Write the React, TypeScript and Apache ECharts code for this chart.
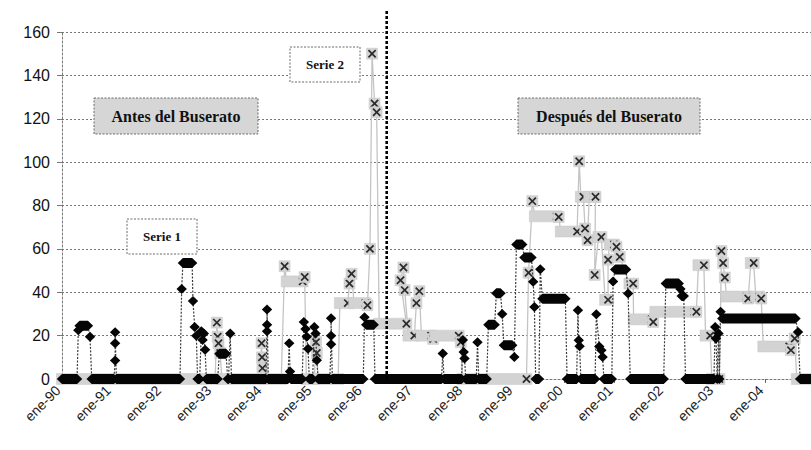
import React, { useEffect, useRef } from "react";
import * as echarts from "echarts";

// x values are months counted from ene-90 (0 = enero 1990)
const yearLabels = [
  "ene-90", "ene-91", "ene-92", "ene-93", "ene-94", "ene-95", "ene-96", "ene-97",
  "ene-98", "ene-99", "ene-00", "ene-01", "ene-02", "ene-03", "ene-04",
];
const lastMonth = 179;
const buseratoMonth = 77.6;

// Serie 1: runs of equal values [startMonth, endMonth, value]
const serie1Runs = [
  [0, 3.6, 0], [3.9, 3.9, 22.5], [4.2, 6.2, 24.5], [6.7, 6.7, 19.5], [7.1, 12.4, 0],
  [12.7, 12.7, 8.5], [12.7, 12.7, 16.5], [12.7, 12.7, 21.5], [13.0, 28.2, 0],
  [28.6, 28.6, 41.5], [28.9, 31.1, 53.5], [31.3, 31.3, 36], [31.7, 31.7, 24], [32.1, 32.1, 20],
  [32.4, 32.9, 0], [33.3, 33.3, 22], [33.6, 33.6, 18], [33.9, 33.9, 21], [34.2, 34.2, 13.5],
  [34.5, 37.2, 0], [37.6, 39.2, 11.7], [39.6, 39.8, 0], [40.2, 40.2, 21], [40.5, 48.7, 0],
  [49.0, 49.0, 22], [49.0, 49.0, 25], [49.0, 49.0, 32], [49.3, 54.0, 0],
  [54.3, 54.3, 16.5], [54.5, 54.5, 3.5], [54.7, 57.4, 0],
  [57.8, 57.8, 26.3], [58.2, 58.2, 23], [58.5, 58.5, 19.5], [58.8, 58.8, 14], [59.1, 59.9, 0],
  [60.3, 60.3, 24], [60.6, 60.6, 21], [60.9, 60.9, 8.7], [61.2, 64.0, 0],
  [64.3, 64.3, 16], [64.3, 64.3, 20], [64.3, 64.3, 28], [64.6, 72.0, 0],
  [72.3, 72.3, 28.5], [72.7, 74.5, 25], [74.8, 90.7, 0], [91.0, 91.0, 11.8], [91.3, 95.5, 0],
  [95.8, 95.8, 18], [96.0, 96.0, 12.5], [96.2, 96.2, 9.4], [96.5, 99.0, 0], [99.3, 99.3, 17],
  [99.6, 101.5, 0], [101.9, 103.4, 25], [103.8, 104.8, 39.5], [105.2, 105.2, 30],
  [105.6, 107.6, 15.6], [108.1, 108.1, 10.2], [108.6, 110.0, 62], [110.5, 112.2, 56],
  [112.6, 112.6, 44.8], [112.9, 112.9, 33.2], [113.2, 114.0, 0], [114.3, 114.3, 50.6],
  [114.8, 120.3, 37], [120.7, 123.0, 0], [123.3, 123.3, 31.7], [123.5, 123.5, 17.9],
  [123.7, 123.7, 15.1], [124.0, 127.4, 0], [127.7, 127.7, 29.9], [128.4, 128.4, 15],
  [128.9, 128.9, 13.3], [129.2, 129.2, 10.2], [129.5, 131.4, 0], [131.7, 131.7, 45],
  [132.2, 134.8, 50.5], [135.3, 135.3, 39.4], [135.8, 143.8, 0], [144.3, 147.4, 44],
  [147.8, 147.8, 41.5], [148.1, 148.6, 38.3], [149.0, 155.8, 0], [156.1, 156.1, 24],
  [156.3, 156.3, 18.7], [156.6, 156.6, 0], [156.9, 156.9, 21], [157.1, 157.1, 0],
  [157.4, 157.4, 31], [157.8, 175.3, 27.9], [175.9, 175.9, 21.7], [176.4, 179, 0],
];

// Serie 2: runs of equal values [startMonth, endMonth, value]
const serie2Runs = [
  [0, 36.6, 0], [37.0, 37.0, 26], [37.2, 37.2, 19.5], [37.4, 37.4, 16.5], [37.8, 37.8, 12],
  [38.2, 47.3, 0], [47.7, 47.7, 16.5], [47.8, 47.8, 10], [47.9, 47.9, 5], [48.2, 52.4, 0],
  [53.2, 53.2, 52], [53.7, 57.5, 45], [58.0, 58.0, 47], [58.4, 60.3, 0],
  [60.7, 60.7, 17], [60.9, 60.9, 12], [61.2, 66.0, 0], [66.4, 68.3, 35], [68.7, 68.7, 44],
  [69.2, 69.2, 48.5], [69.8, 72.5, 35], [73.0, 73.0, 34], [73.6, 73.6, 60], [74.1, 74.1, 150],
  [74.7, 74.7, 127], [75.2, 75.2, 123], [75.8, 82.3, 25.5], [80.9, 80.9, 45.5],
  [81.6, 81.6, 51.4], [81.9, 81.9, 41], [82.8, 84.2, 20], [84.7, 84.7, 35], [85.4, 85.4, 40.5],
  [85.9, 88.2, 20], [88.7, 88.7, 18.5], [89.2, 94.8, 20], [95.3, 95.3, 17], [95.7, 111.0, 0],
  [111.5, 111.5, 49], [112.4, 112.4, 82], [113.0, 118.2, 75], [118.7, 118.7, 74.7],
  [119.2, 123.1, 68], [123.6, 123.6, 100.4], [124.0, 124.6, 84], [125.0, 125.0, 69.4],
  [125.6, 125.6, 64], [126.0, 127.1, 84], [127.5, 127.5, 84], [127.3, 127.3, 48],
  [128.2, 128.9, 65.5], [129.8, 130.5, 36.5], [130.5, 130.5, 55], [130.9, 131.9, 62],
  [132.5, 132.5, 61], [133.3, 133.3, 56.3], [135.6, 136.5, 44], [136.6, 140.9, 27.5],
  [141.3, 141.3, 26.3], [141.8, 151.1, 31], [151.6, 151.6, 31], [152.1, 153.4, 52.5],
  [153.8, 154.9, 20], [155.3, 157.1, 0], [157.6, 157.6, 59], [158.0, 158.0, 53.5],
  [158.4, 158.4, 46.8], [158.8, 163.6, 38], [164.0, 164.0, 37.1], [164.6, 165.3, 53.5],
  [165.8, 166.6, 38], [167.1, 167.1, 37.1], [167.6, 173.8, 15], [174.2, 174.2, 13.3],
  [175.1, 175.1, 18.7], [175.6, 179, 0],
];

function runsToLine(runs: number[][]) {
  const pts: number[][] = [];
  runs.forEach((r) => {
    pts.push([r[0], r[2]]);
    if (r[1] !== r[0]) pts.push([r[1], r[2]]);
  });
  return pts;
}

export default function App() {
  const ref = useRef<HTMLDivElement>(null);
  useEffect(() => {
    const chart = echarts.init(ref.current!, null, { renderer: "svg" });
    const option: any = {
      animation: false,
      backgroundColor: "#ffffff",
      grid: { left: 62, right: 0, top: 32, bottom: 71, containLabel: false },
      xAxis: {
        type: "value",
        min: 0,
        max: lastMonth,
        interval: 12,
        axisLine: { show: true, lineStyle: { color: "#777", type: [2, 2] } },
        axisTick: { show: true, length: 4, lineStyle: { color: "#666" } },
        splitLine: { show: false },
        axisLabel: { show: false },
      },
      yAxis: {
        type: "value",
        min: 0,
        max: 160,
        interval: 20,
        axisLine: { show: true, lineStyle: { color: "#777", type: [2, 2] } },
        axisTick: { show: true, length: 5, lineStyle: { color: "#777" } },
        splitLine: { show: true, lineStyle: { color: "#777", type: [2, 2], width: 1 } },
        axisLabel: {
          margin: 12,
          fontFamily: "Liberation Sans",
          fontSize: 16,
          color: "#111",
        },
      },
      series: [
        {
          name: "Serie 2 línea",
          type: "line",
          data: runsToLine(serie2Runs),
          symbol: "none",
          lineStyle: { color: "#c4c4c4", width: 1.3 },
          z: 2,
          silent: true,
        },
        {
          name: "Serie 2",
          type: "custom",
          data: serie2Runs,
          encode: { x: [0, 1], y: 2 },
          z: 3,
          silent: true,
          renderItem: (params: any, api: any) => {
            const p0 = api.coord([api.value(0), api.value(2)]);
            const p1 = api.coord([api.value(1), api.value(2)]);
            const s = 5.5;
            const c = 3.6;
            return {
              type: "group",
              children: [
                {
                  type: "rect",
                  shape: { x: p0[0] - s, y: p0[1] - s, width: p1[0] - p0[0] + 2 * s, height: 2 * s },
                  style: { fill: "#d3d3d3", stroke: "#c6c6c6", lineWidth: 0.5 },
                },
                {
                  type: "line",
                  shape: { x1: p1[0] - c, y1: p1[1] - c, x2: p1[0] + c, y2: p1[1] + c },
                  style: { stroke: "#2a2a2a", lineWidth: 1.7 },
                },
                {
                  type: "line",
                  shape: { x1: p1[0] - c, y1: p1[1] + c, x2: p1[0] + c, y2: p1[1] - c },
                  style: { stroke: "#2a2a2a", lineWidth: 1.7 },
                },
              ],
            };
          },
        },
        {
          name: "Serie 1 línea",
          type: "line",
          data: runsToLine(serie1Runs),
          symbol: "none",
          lineStyle: { color: "#3a3a3a", width: 1.2, type: [2, 1.5] },
          z: 4,
          silent: true,
        },
        {
          name: "Serie 1",
          type: "custom",
          data: serie1Runs,
          encode: { x: [0, 1], y: 2 },
          z: 5,
          silent: true,
          renderItem: (params: any, api: any) => {
            const p0 = api.coord([api.value(0), api.value(2)]);
            const p1 = api.coord([api.value(1), api.value(2)]);
            const w = 5.2;
            const h = 5;
            return {
              type: "polygon",
              shape: {
                points: [
                  [p0[0] - w, p0[1]],
                  [p0[0], p0[1] - h],
                  [p1[0], p1[1] - h],
                  [p1[0] + w, p1[1]],
                  [p1[0], p1[1] + h],
                  [p0[0], p0[1] + h],
                ],
              },
              style: { fill: "#050505" },
            };
          },
        },
      ],
    };
    chart.setOption(option);

    const vx = chart.convertToPixel({ xAxisIndex: 0 }, buseratoMonth) as number;
    const y0 = chart.convertToPixel({ yAxisIndex: 0 }, 0) as number;

    const box = (x: number, y: number, w: number, h: number, text: string, fill: string, size: number) => ({
      type: "group",
      z: 100,
      children: [
        {
          type: "rect",
          shape: { x, y, width: w, height: h },
          style: { fill, stroke: "#6a6a6a", lineWidth: 1, lineDash: [2, 1.5] },
          z: 100,
        },
        {
          type: "text",
          x: x + w / 2,
          y: y + h / 2,
          z: 101,
          style: {
            text,
            fontFamily: "Liberation Serif",
            fontWeight: "bold",
            fontSize: size,
            fill: "#111",
            textAlign: "center",
            textVerticalAlign: "middle",
            align: "center",
            verticalAlign: "middle",
          },
        },
      ],
    });

    const xLabels = yearLabels.map((lab, i) => {
      const tx = chart.convertToPixel({ xAxisIndex: 0 }, i * 12) as number;
      return {
        type: "group",
        x: tx - 4,
        y: y0 + 9,
        rotation: Math.PI / 4,
        z: 60,
        children: [
          {
            type: "text",
            x: 0,
            y: 0,
            style: {
              text: lab,
              fontFamily: "Liberation Sans",
              fontSize: 14,
              fill: "#1a1a1a",
              textAlign: "right",
              textVerticalAlign: "middle",
              align: "right",
              verticalAlign: "middle",
            },
          },
        ],
      };
    });

    chart.setOption({
      graphic: [
        {
          type: "line",
          z: 50,
          shape: { x1: vx, y1: 11, x2: vx, y2: y0 },
          style: { stroke: "#000", lineWidth: 2.6, lineDash: [3, 2] },
        },
        box(94, 98, 164, 36, "Antes del Buserato", "#d6d6d6", 16),
        box(518, 98, 182, 36, "Después del Buserato", "#d6d6d6", 16),
        box(127, 219, 70, 35, "Serie 1", "#ffffff", 13),
        box(290, 47, 70, 35, "Serie 2", "#ffffff", 13),
        ...xLabels,
      ],
    });

    return () => chart.dispose();
  }, []);
  return (
    <div
      ref={ref}
      style={{ position: "absolute", left: 0, top: 0, width: 811, height: 450 }}
    />
  );
}
